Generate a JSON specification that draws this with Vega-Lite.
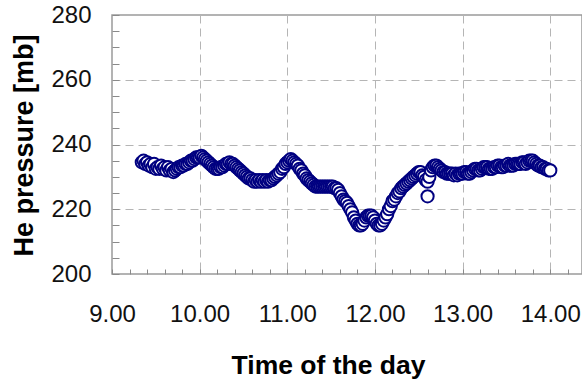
{
  "$schema": "https://vega.github.io/schema/vega-lite/v6.json",
  "width": 470,
  "height": 259,
  "autosize": {"type": "none"},
  "padding": {"left": 112, "top": 15, "right": 0, "bottom": 106},
  "background": "white",
  "config": {
    "view": {"stroke": "#9a9a9a", "strokeWidth": 1.5},
    "font": "Liberation Sans"
  },
  "data": {
    "values": [
      {"t": 9.34, "p": 234.5}, {"t": 9.36, "p": 235}, {"t": 9.38, "p": 234}, {"t": 9.40, "p": 234.5},
      {"t": 9.42, "p": 233.5}, {"t": 9.44, "p": 234}, {"t": 9.46, "p": 233}, {"t": 9.48, "p": 234},
      {"t": 9.50, "p": 232.5}, {"t": 9.52, "p": 233}, {"t": 9.54, "p": 232.5}, {"t": 9.56, "p": 233.5},
      {"t": 9.58, "p": 232.5}, {"t": 9.60, "p": 233}, {"t": 9.62, "p": 232}, {"t": 9.64, "p": 233},
      {"t": 9.66, "p": 232}, {"t": 9.68, "p": 232.5}, {"t": 9.70, "p": 231.5}, {"t": 9.72, "p": 232},
      {"t": 9.74, "p": 232.5}, {"t": 9.76, "p": 233}, {"t": 9.78, "p": 233}, {"t": 9.80, "p": 233.5},
      {"t": 9.82, "p": 233.5}, {"t": 9.84, "p": 234}, {"t": 9.86, "p": 234}, {"t": 9.88, "p": 234.5},
      {"t": 9.90, "p": 235}, {"t": 9.92, "p": 235}, {"t": 9.94, "p": 235.5}, {"t": 9.96, "p": 236},
      {"t": 9.98, "p": 236}, {"t": 10.00, "p": 236}, {"t": 10.02, "p": 236.5}, {"t": 10.04, "p": 236},
      {"t": 10.06, "p": 235.5}, {"t": 10.08, "p": 235}, {"t": 10.10, "p": 234.5}, {"t": 10.12, "p": 234},
      {"t": 10.14, "p": 233.5}, {"t": 10.16, "p": 233}, {"t": 10.18, "p": 232.5}, {"t": 10.20, "p": 232.5},
      {"t": 10.22, "p": 232.5}, {"t": 10.24, "p": 233}, {"t": 10.26, "p": 233}, {"t": 10.28, "p": 233.5},
      {"t": 10.30, "p": 234}, {"t": 10.32, "p": 234}, {"t": 10.34, "p": 234.5}, {"t": 10.36, "p": 234},
      {"t": 10.38, "p": 234}, {"t": 10.40, "p": 233.5}, {"t": 10.42, "p": 233}, {"t": 10.44, "p": 232.5},
      {"t": 10.46, "p": 232}, {"t": 10.48, "p": 231.5}, {"t": 10.50, "p": 231}, {"t": 10.52, "p": 230.5},
      {"t": 10.54, "p": 230}, {"t": 10.56, "p": 229.5}, {"t": 10.58, "p": 229.5}, {"t": 10.60, "p": 229},
      {"t": 10.62, "p": 228.5}, {"t": 10.64, "p": 229}, {"t": 10.66, "p": 228.5}, {"t": 10.68, "p": 229},
      {"t": 10.70, "p": 228.5}, {"t": 10.72, "p": 229}, {"t": 10.74, "p": 228.5}, {"t": 10.76, "p": 229},
      {"t": 10.78, "p": 228.5}, {"t": 10.80, "p": 229}, {"t": 10.82, "p": 229}, {"t": 10.84, "p": 229.5},
      {"t": 10.86, "p": 230}, {"t": 10.88, "p": 230.5}, {"t": 10.90, "p": 231}, {"t": 10.92, "p": 231.5},
      {"t": 10.94, "p": 232.5}, {"t": 10.96, "p": 233}, {"t": 10.98, "p": 234}, {"t": 11.00, "p": 234.5},
      {"t": 11.02, "p": 235}, {"t": 11.04, "p": 235.5}, {"t": 11.06, "p": 235}, {"t": 11.08, "p": 234.5},
      {"t": 11.10, "p": 234}, {"t": 11.12, "p": 233.5}, {"t": 11.14, "p": 232.5}, {"t": 11.16, "p": 232},
      {"t": 11.18, "p": 231}, {"t": 11.20, "p": 230.5}, {"t": 11.22, "p": 229.5}, {"t": 11.24, "p": 229},
      {"t": 11.26, "p": 228.5}, {"t": 11.28, "p": 228}, {"t": 11.30, "p": 227.5}, {"t": 11.32, "p": 227},
      {"t": 11.34, "p": 227}, {"t": 11.36, "p": 227}, {"t": 11.38, "p": 227}, {"t": 11.40, "p": 227},
      {"t": 11.42, "p": 227}, {"t": 11.44, "p": 227}, {"t": 11.46, "p": 227}, {"t": 11.48, "p": 227},
      {"t": 11.50, "p": 227}, {"t": 11.52, "p": 227}, {"t": 11.54, "p": 226.5}, {"t": 11.56, "p": 226.5},
      {"t": 11.58, "p": 226}, {"t": 11.60, "p": 225}, {"t": 11.62, "p": 224}, {"t": 11.64, "p": 223},
      {"t": 11.66, "p": 222.5}, {"t": 11.68, "p": 222}, {"t": 11.70, "p": 221}, {"t": 11.72, "p": 220},
      {"t": 11.74, "p": 219}, {"t": 11.76, "p": 217.5}, {"t": 11.78, "p": 216.5}, {"t": 11.80, "p": 215.5},
      {"t": 11.82, "p": 215}, {"t": 11.84, "p": 215}, {"t": 11.86, "p": 215.5}, {"t": 11.88, "p": 216.5},
      {"t": 11.90, "p": 217.5}, {"t": 11.92, "p": 218}, {"t": 11.94, "p": 218}, {"t": 11.96, "p": 218},
      {"t": 11.98, "p": 217.5}, {"t": 12.00, "p": 216.5}, {"t": 12.02, "p": 215.5}, {"t": 12.04, "p": 215},
      {"t": 12.06, "p": 215}, {"t": 12.08, "p": 215.5}, {"t": 12.10, "p": 216.5}, {"t": 12.12, "p": 217.5},
      {"t": 12.14, "p": 218.5}, {"t": 12.16, "p": 220}, {"t": 12.18, "p": 221}, {"t": 12.20, "p": 222.5},
      {"t": 12.22, "p": 223}, {"t": 12.24, "p": 224}, {"t": 12.26, "p": 225}, {"t": 12.28, "p": 225.5},
      {"t": 12.30, "p": 226.5}, {"t": 12.32, "p": 227}, {"t": 12.34, "p": 227.5}, {"t": 12.36, "p": 228},
      {"t": 12.38, "p": 228.5}, {"t": 12.40, "p": 229}, {"t": 12.42, "p": 229.5}, {"t": 12.44, "p": 230},
      {"t": 12.46, "p": 230.5}, {"t": 12.48, "p": 231}, {"t": 12.50, "p": 231.5}, {"t": 12.52, "p": 231.5},
      {"t": 12.54, "p": 230.5}, {"t": 12.56, "p": 230}, {"t": 12.58, "p": 229}, {"t": 12.60, "p": 228.5},
      {"t": 12.60, "p": 224}, {"t": 12.62, "p": 230}, {"t": 12.64, "p": 232}, {"t": 12.66, "p": 233},
      {"t": 12.68, "p": 233.5}, {"t": 12.70, "p": 233.5}, {"t": 12.72, "p": 233}, {"t": 12.74, "p": 232.5},
      {"t": 12.76, "p": 232}, {"t": 12.78, "p": 231.5}, {"t": 12.80, "p": 231.5}, {"t": 12.82, "p": 231},
      {"t": 12.84, "p": 231}, {"t": 12.86, "p": 231}, {"t": 12.88, "p": 231}, {"t": 12.90, "p": 230.5},
      {"t": 12.92, "p": 231}, {"t": 12.94, "p": 230.5}, {"t": 12.96, "p": 231}, {"t": 12.98, "p": 231},
      {"t": 13.00, "p": 231}, {"t": 13.02, "p": 231.5}, {"t": 13.04, "p": 231.5}, {"t": 13.06, "p": 231},
      {"t": 13.08, "p": 231}, {"t": 13.10, "p": 231.5}, {"t": 13.12, "p": 232}, {"t": 13.14, "p": 232.5},
      {"t": 13.16, "p": 232.5}, {"t": 13.18, "p": 232}, {"t": 13.20, "p": 232}, {"t": 13.22, "p": 232.5},
      {"t": 13.24, "p": 233}, {"t": 13.26, "p": 233}, {"t": 13.28, "p": 233}, {"t": 13.30, "p": 232.5},
      {"t": 13.32, "p": 232.5}, {"t": 13.34, "p": 232.5}, {"t": 13.36, "p": 233}, {"t": 13.38, "p": 233},
      {"t": 13.40, "p": 233.5}, {"t": 13.42, "p": 233.5}, {"t": 13.44, "p": 233}, {"t": 13.46, "p": 233},
      {"t": 13.48, "p": 233.5}, {"t": 13.50, "p": 233.5}, {"t": 13.52, "p": 234}, {"t": 13.54, "p": 233.5},
      {"t": 13.56, "p": 233.5}, {"t": 13.58, "p": 233.5}, {"t": 13.60, "p": 234}, {"t": 13.62, "p": 234},
      {"t": 13.64, "p": 234}, {"t": 13.66, "p": 234}, {"t": 13.68, "p": 234.5}, {"t": 13.70, "p": 234.5},
      {"t": 13.72, "p": 234}, {"t": 13.74, "p": 234.5}, {"t": 13.76, "p": 235}, {"t": 13.78, "p": 235},
      {"t": 13.80, "p": 235}, {"t": 13.82, "p": 234.5}, {"t": 13.84, "p": 234}, {"t": 13.86, "p": 233.5},
      {"t": 13.88, "p": 233.5}, {"t": 13.90, "p": 233}, {"t": 13.92, "p": 233}, {"t": 13.94, "p": 232.5},
      {"t": 13.96, "p": 232.5}, {"t": 13.98, "p": 232}, {"t": 14.00, "p": 232}
    ]
  },
  "mark": {"type": "point", "shape": "circle", "fill": "white", "stroke": "#000080", "strokeWidth": 2, "size": 150, "opacity": 1, "fillOpacity": 1, "clip": true},
  "encoding": {
    "x": {
      "field": "t", "type": "quantitative",
      "scale": {"domain": [9, 14.362], "nice": false, "zero": false},
      "axis": {
        "values": [9, 9.2, 9.4, 9.6, 9.8, 10, 10.2, 10.4, 10.6, 10.8, 11, 11.2, 11.4, 11.6, 11.8, 12, 12.2, 12.4, 12.6, 12.8, 13, 13.2, 13.4, 13.6, 13.8, 14, 14.2],
        "labelExpr": "abs(datum.value - round(datum.value)) < 0.001 ? format(datum.value, '.2f') : ''",
        "labelFont": "Liberation Sans", "labelFontSize": 24, "labelColor": "#111111",
        "labelPadding": 33, "labelFlush": false, "labelOverlap": false,
        "domain": false,
        "tickSize": -5, "tickColor": "#8a8a8a", "tickWidth": 1,
        "grid": true, "gridColor": "#b5b5b5", "gridDash": [8, 5], "gridWidth": 1,
        "gridOpacity": {"condition": {"test": "abs(datum.value - round(datum.value)) < 0.001 && datum.value > 9", "value": 1}, "value": 0},
        "title": "Time of the day",
        "titleFont": "Liberation Sans", "titleFontSize": 26.5, "titleFontWeight": "bold", "titleColor": "#000000",
        "titleX": 216, "titleY": 99, "titleAlign": "center", "titleBaseline": "alphabetic", "titleAnchor": null
      }
    },
    "y": {
      "field": "p", "type": "quantitative",
      "scale": {"domain": [200, 280], "nice": false, "zero": false},
      "axis": {
        "values": [200, 205, 210, 215, 220, 225, 230, 235, 240, 245, 250, 255, 260, 265, 270, 275, 280],
        "labelExpr": "datum.value % 20 === 0 ? format(datum.value, 'd') : ''",
        "labelFont": "Liberation Sans", "labelFontSize": 24, "labelColor": "#111111",
        "labelPadding": 28, "labelFlush": false, "labelOverlap": false,
        "domain": false,
        "tickSize": -7, "tickColor": "#8a8a8a", "tickWidth": 1,
        "grid": true, "gridColor": "#b5b5b5", "gridDash": [8, 5], "gridWidth": 1,
        "gridOpacity": {"condition": {"test": "datum.value % 20 === 0 && datum.value > 200 && datum.value < 280", "value": 1}, "value": 0},
        "title": "He pressure [mb]",
        "titleFont": "Liberation Sans", "titleFontSize": 27, "titleFontWeight": "bold", "titleColor": "#000000",
        "titleX": -80, "titleY": 130, "titleAngle": -90, "titleAlign": "center", "titleBaseline": "alphabetic", "titleAnchor": null
      }
    }
  }
}
